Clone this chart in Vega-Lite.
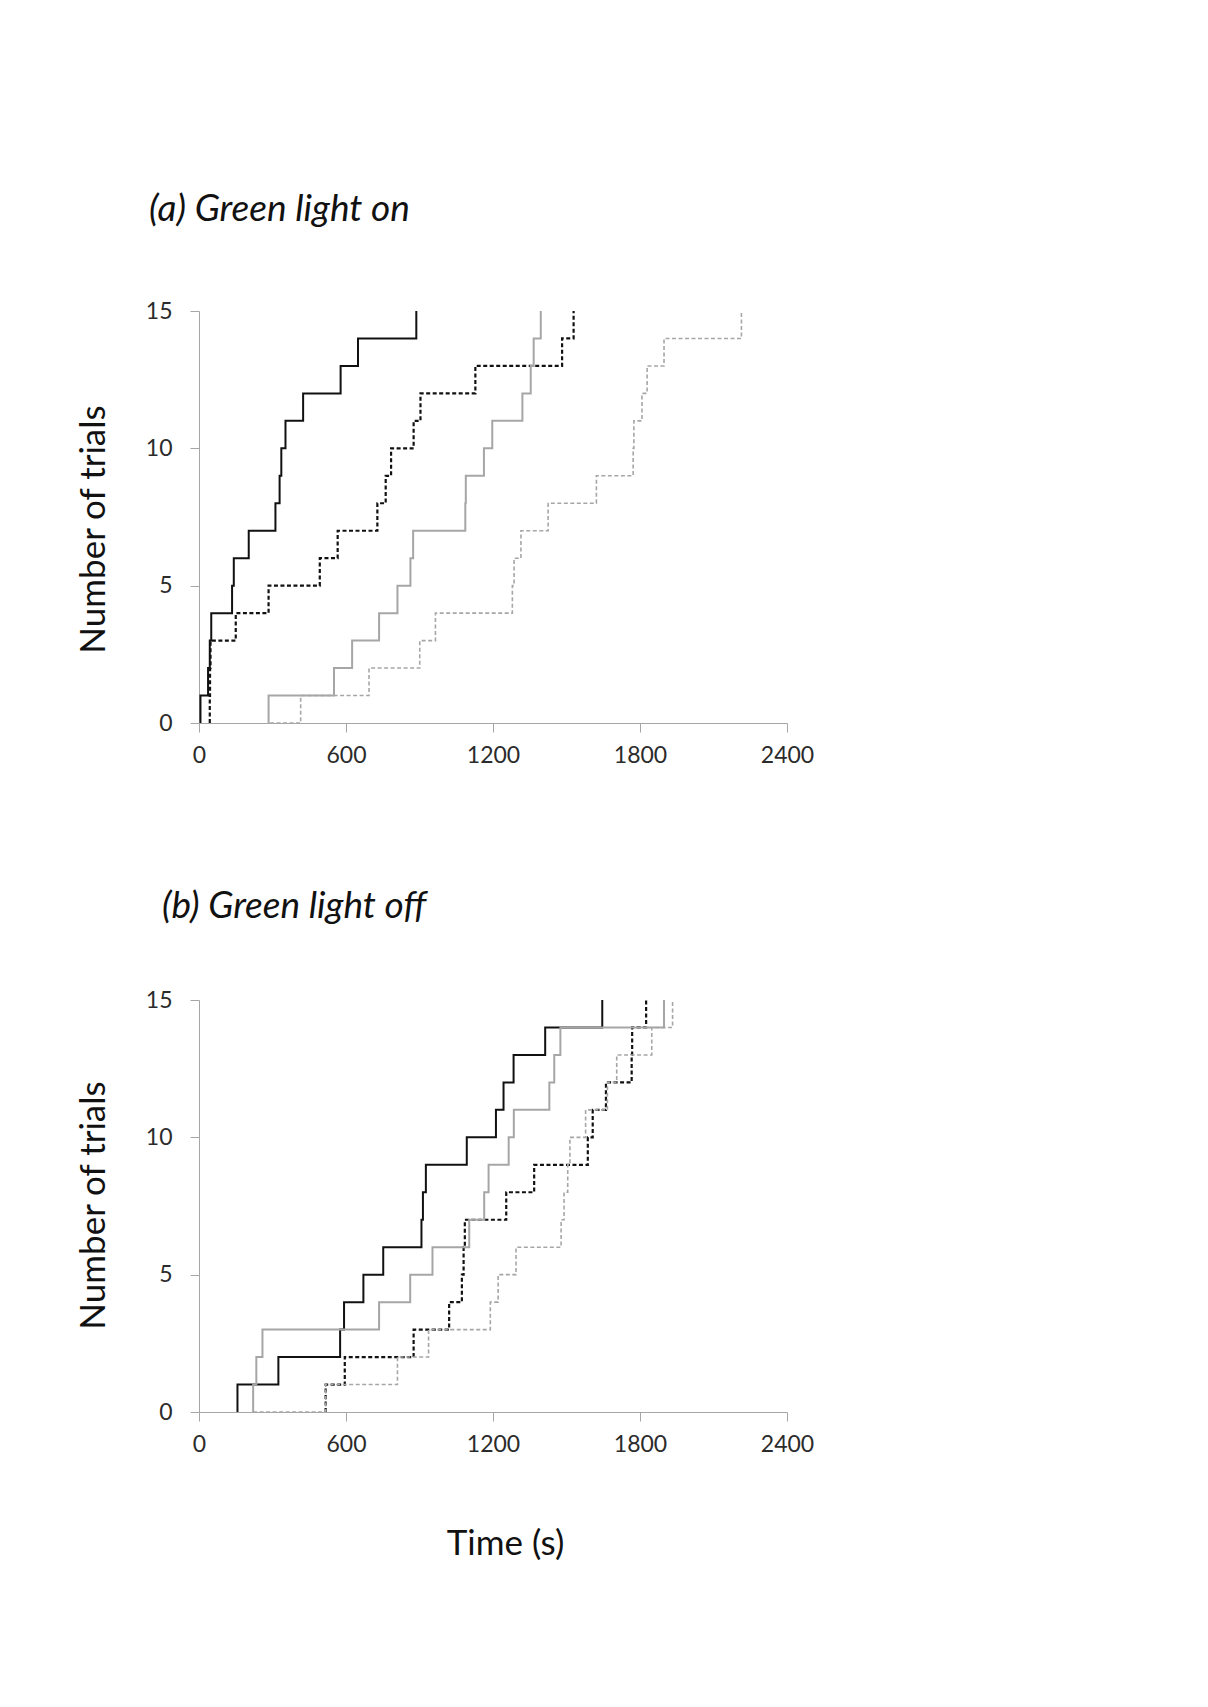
{
  "$schema": "https://vega.github.io/schema/vega-lite/v6.json",
  "background": "white",
  "padding": {"left": 76, "top": 191, "right": 5, "bottom": 5},
  "spacing": 121,
  "config": {
    "view": {"stroke": null},
    "font": "Lato",
    "axis": {
      "grid": false,
      "domainColor": "#a6a6a6",
      "tickColor": "#a6a6a6",
      "tickSize": 9,
      "labelFont": "Lato",
      "labelFontSize": 23,
      "labelColor": "#2b2b2b",
      "labelFlush": false,
      "titleFont": "Lato",
      "titleFontSize": 35,
      "titleFontWeight": "normal",
      "titleColor": "#111111"
    },
    "title": {"font": "Lato", "fontSize": 37, "fontStyle": "italic", "fontWeight": "normal", "color": "#111111", "anchor": "start", "frame": "group"}
  },
  "datasets": {
    "d": [
      {"panel": "a", "s": "bs", "t": 6, "n": 0}, {"panel": "a", "s": "bs", "t": 6, "n": 1}, {"panel": "a", "s": "bs", "t": 37, "n": 2}, {"panel": "a", "s": "bs", "t": 44, "n": 3}, {"panel": "a", "s": "bs", "t": 50, "n": 4}, {"panel": "a", "s": "bs", "t": 135, "n": 5}, {"panel": "a", "s": "bs", "t": 142, "n": 6}, {"panel": "a", "s": "bs", "t": 203, "n": 7}, {"panel": "a", "s": "bs", "t": 312, "n": 8}, {"panel": "a", "s": "bs", "t": 329, "n": 9}, {"panel": "a", "s": "bs", "t": 336, "n": 10}, {"panel": "a", "s": "bs", "t": 353, "n": 11}, {"panel": "a", "s": "bs", "t": 425, "n": 12}, {"panel": "a", "s": "bs", "t": 578, "n": 13}, {"panel": "a", "s": "bs", "t": 649, "n": 14}, {"panel": "a", "s": "bs", "t": 887, "n": 15},
      {"panel": "a", "s": "bd", "t": 44, "n": 0}, {"panel": "a", "s": "bd", "t": 44, "n": 1}, {"panel": "a", "s": "bd", "t": 45, "n": 2}, {"panel": "a", "s": "bd", "t": 47, "n": 3}, {"panel": "a", "s": "bd", "t": 150, "n": 4}, {"panel": "a", "s": "bd", "t": 284, "n": 5}, {"panel": "a", "s": "bd", "t": 493, "n": 6}, {"panel": "a", "s": "bd", "t": 566, "n": 7}, {"panel": "a", "s": "bd", "t": 728, "n": 8}, {"panel": "a", "s": "bd", "t": 762, "n": 9}, {"panel": "a", "s": "bd", "t": 784, "n": 10}, {"panel": "a", "s": "bd", "t": 876, "n": 11}, {"panel": "a", "s": "bd", "t": 904, "n": 12}, {"panel": "a", "s": "bd", "t": 1128, "n": 13}, {"panel": "a", "s": "bd", "t": 1482, "n": 14}, {"panel": "a", "s": "bd", "t": 1529, "n": 15},
      {"panel": "a", "s": "gs", "t": 284, "n": 0}, {"panel": "a", "s": "gs", "t": 284, "n": 1}, {"panel": "a", "s": "gs", "t": 551, "n": 2}, {"panel": "a", "s": "gs", "t": 625, "n": 3}, {"panel": "a", "s": "gs", "t": 735, "n": 4}, {"panel": "a", "s": "gs", "t": 810, "n": 5}, {"panel": "a", "s": "gs", "t": 863, "n": 6}, {"panel": "a", "s": "gs", "t": 874, "n": 7}, {"panel": "a", "s": "gs", "t": 1087, "n": 8}, {"panel": "a", "s": "gs", "t": 1089, "n": 9}, {"panel": "a", "s": "gs", "t": 1163, "n": 10}, {"panel": "a", "s": "gs", "t": 1197, "n": 11}, {"panel": "a", "s": "gs", "t": 1320, "n": 12}, {"panel": "a", "s": "gs", "t": 1354, "n": 13}, {"panel": "a", "s": "gs", "t": 1366, "n": 14}, {"panel": "a", "s": "gs", "t": 1395, "n": 15},
      {"panel": "a", "s": "gd", "t": 290, "n": 0}, {"panel": "a", "s": "gd", "t": 415, "n": 1}, {"panel": "a", "s": "gd", "t": 694, "n": 2}, {"panel": "a", "s": "gd", "t": 901, "n": 3}, {"panel": "a", "s": "gd", "t": 965, "n": 4}, {"panel": "a", "s": "gd", "t": 1279, "n": 5}, {"panel": "a", "s": "gd", "t": 1286, "n": 6}, {"panel": "a", "s": "gd", "t": 1314, "n": 7}, {"panel": "a", "s": "gd", "t": 1425, "n": 8}, {"panel": "a", "s": "gd", "t": 1622, "n": 9}, {"panel": "a", "s": "gd", "t": 1772, "n": 10}, {"panel": "a", "s": "gd", "t": 1775, "n": 11}, {"panel": "a", "s": "gd", "t": 1808, "n": 12}, {"panel": "a", "s": "gd", "t": 1829, "n": 13}, {"panel": "a", "s": "gd", "t": 1898, "n": 14}, {"panel": "a", "s": "gd", "t": 2214, "n": 15},
      {"panel": "b", "s": "bs", "t": 157, "n": 0}, {"panel": "b", "s": "bs", "t": 157, "n": 1}, {"panel": "b", "s": "bs", "t": 324, "n": 2}, {"panel": "b", "s": "bs", "t": 576, "n": 3}, {"panel": "b", "s": "bs", "t": 592, "n": 4}, {"panel": "b", "s": "bs", "t": 671, "n": 5}, {"panel": "b", "s": "bs", "t": 752, "n": 6}, {"panel": "b", "s": "bs", "t": 908, "n": 7}, {"panel": "b", "s": "bs", "t": 914, "n": 8}, {"panel": "b", "s": "bs", "t": 926, "n": 9}, {"panel": "b", "s": "bs", "t": 1093, "n": 10}, {"panel": "b", "s": "bs", "t": 1212, "n": 11}, {"panel": "b", "s": "bs", "t": 1243, "n": 12}, {"panel": "b", "s": "bs", "t": 1284, "n": 13}, {"panel": "b", "s": "bs", "t": 1413, "n": 14}, {"panel": "b", "s": "bs", "t": 1646, "n": 15},
      {"panel": "b", "s": "bd", "t": 517, "n": 0}, {"panel": "b", "s": "bd", "t": 517, "n": 1}, {"panel": "b", "s": "bd", "t": 595, "n": 2}, {"panel": "b", "s": "bd", "t": 876, "n": 3}, {"panel": "b", "s": "bd", "t": 1021, "n": 4}, {"panel": "b", "s": "bd", "t": 1073, "n": 5}, {"panel": "b", "s": "bd", "t": 1080, "n": 6}, {"panel": "b", "s": "bd", "t": 1085, "n": 7}, {"panel": "b", "s": "bd", "t": 1254, "n": 8}, {"panel": "b", "s": "bd", "t": 1368, "n": 9}, {"panel": "b", "s": "bd", "t": 1587, "n": 10}, {"panel": "b", "s": "bd", "t": 1607, "n": 11}, {"panel": "b", "s": "bd", "t": 1661, "n": 12}, {"panel": "b", "s": "bd", "t": 1766, "n": 13}, {"panel": "b", "s": "bd", "t": 1768, "n": 14}, {"panel": "b", "s": "bd", "t": 1825, "n": 15},
      {"panel": "b", "s": "gs", "t": 221, "n": 0}, {"panel": "b", "s": "gs", "t": 221, "n": 1}, {"panel": "b", "s": "gs", "t": 234, "n": 2}, {"panel": "b", "s": "gs", "t": 259, "n": 3}, {"panel": "b", "s": "gs", "t": 735, "n": 4}, {"panel": "b", "s": "gs", "t": 862, "n": 5}, {"panel": "b", "s": "gs", "t": 953, "n": 6}, {"panel": "b", "s": "gs", "t": 1103, "n": 7}, {"panel": "b", "s": "gs", "t": 1164, "n": 8}, {"panel": "b", "s": "gs", "t": 1182, "n": 9}, {"panel": "b", "s": "gs", "t": 1264, "n": 10}, {"panel": "b", "s": "gs", "t": 1285, "n": 11}, {"panel": "b", "s": "gs", "t": 1430, "n": 12}, {"panel": "b", "s": "gs", "t": 1450, "n": 13}, {"panel": "b", "s": "gs", "t": 1475, "n": 14}, {"panel": "b", "s": "gs", "t": 1898, "n": 15},
      {"panel": "b", "s": "gd", "t": 221, "n": 0}, {"panel": "b", "s": "gd", "t": 517, "n": 1}, {"panel": "b", "s": "gd", "t": 810, "n": 2}, {"panel": "b", "s": "gd", "t": 937, "n": 3}, {"panel": "b", "s": "gd", "t": 1189, "n": 4}, {"panel": "b", "s": "gd", "t": 1221, "n": 5}, {"panel": "b", "s": "gd", "t": 1294, "n": 6}, {"panel": "b", "s": "gd", "t": 1478, "n": 7}, {"panel": "b", "s": "gd", "t": 1490, "n": 8}, {"panel": "b", "s": "gd", "t": 1505, "n": 9}, {"panel": "b", "s": "gd", "t": 1514, "n": 10}, {"panel": "b", "s": "gd", "t": 1578, "n": 11}, {"panel": "b", "s": "gd", "t": 1667, "n": 12}, {"panel": "b", "s": "gd", "t": 1705, "n": 13}, {"panel": "b", "s": "gd", "t": 1848, "n": 14}, {"panel": "b", "s": "gd", "t": 1933, "n": 15}
    ]
  },
  "vconcat": [
    {
      "title": {"text": "(a) Green light on", "dx": -50, "offset": 71},
      "width": 588,
      "height": 412,
      "data": {"name": "d"},
      "transform": [{"filter": "datum.panel == 'a'"}],
      "encoding": {
        "x": {"field": "t", "type": "quantitative", "scale": {"domain": [0, 2400], "nice": false}, "axis": {"values": [0, 600, 1200, 1800, 2400], "format": "d", "title": null, "labelPadding": 12}},
        "y": {"field": "n", "type": "quantitative", "scale": {"domain": [0, 15], "nice": false}, "axis": {"values": [0, 5, 10, 15], "title": "Number of trials", "labelPadding": 18, "titleX": -106, "titleY": 218, "titleBaseline": "middle", "titleAngle": 270}},
        "order": {"field": "n", "type": "quantitative"}
      },
      "layer": [
        {"transform": [{"filter": "datum.s == 'bs'"}], "mark": {"type": "line", "interpolate": "step-after", "color": "#111111", "strokeWidth": 2}},
        {"transform": [{"filter": "datum.s == 'bd'"}], "mark": {"type": "line", "interpolate": "step-after", "color": "#111111", "strokeWidth": 2.2, "strokeDash": [4, 2.5]}},
        {"transform": [{"filter": "datum.s == 'gs'"}], "mark": {"type": "line", "interpolate": "step-after", "color": "#a6a6a6", "strokeWidth": 2}},
        {"transform": [{"filter": "datum.s == 'gd'"}], "mark": {"type": "line", "interpolate": "step-after", "color": "#a6a6a6", "strokeWidth": 1.6, "strokeDash": [4, 2.5]}}
      ]
    },
    {
      "title": {"text": "(b) Green light off", "dx": -37, "offset": 63},
      "width": 588,
      "height": 412,
      "data": {"name": "d"},
      "transform": [{"filter": "datum.panel == 'b'"}],
      "encoding": {
        "x": {"field": "t", "type": "quantitative", "scale": {"domain": [0, 2400], "nice": false}, "axis": {"values": [0, 600, 1200, 1800, 2400], "format": "d", "title": "Time (s)", "labelPadding": 12, "titleX": 306, "titleY": 131, "titleBaseline": "middle"}},
        "y": {"field": "n", "type": "quantitative", "scale": {"domain": [0, 15], "nice": false}, "axis": {"values": [0, 5, 10, 15], "title": "Number of trials", "labelPadding": 18, "titleX": -106, "titleY": 205, "titleBaseline": "middle", "titleAngle": 270}},
        "order": {"field": "n", "type": "quantitative"}
      },
      "layer": [
        {"transform": [{"filter": "datum.s == 'bs'"}], "mark": {"type": "line", "interpolate": "step-after", "color": "#111111", "strokeWidth": 2}},
        {"transform": [{"filter": "datum.s == 'bd'"}], "mark": {"type": "line", "interpolate": "step-after", "color": "#111111", "strokeWidth": 2.2, "strokeDash": [4, 2.5]}},
        {"transform": [{"filter": "datum.s == 'gs'"}], "mark": {"type": "line", "interpolate": "step-after", "color": "#a6a6a6", "strokeWidth": 2}},
        {"transform": [{"filter": "datum.s == 'gd'"}], "mark": {"type": "line", "interpolate": "step-after", "color": "#a6a6a6", "strokeWidth": 1.6, "strokeDash": [4, 2.5]}}
      ]
    }
  ]
}
